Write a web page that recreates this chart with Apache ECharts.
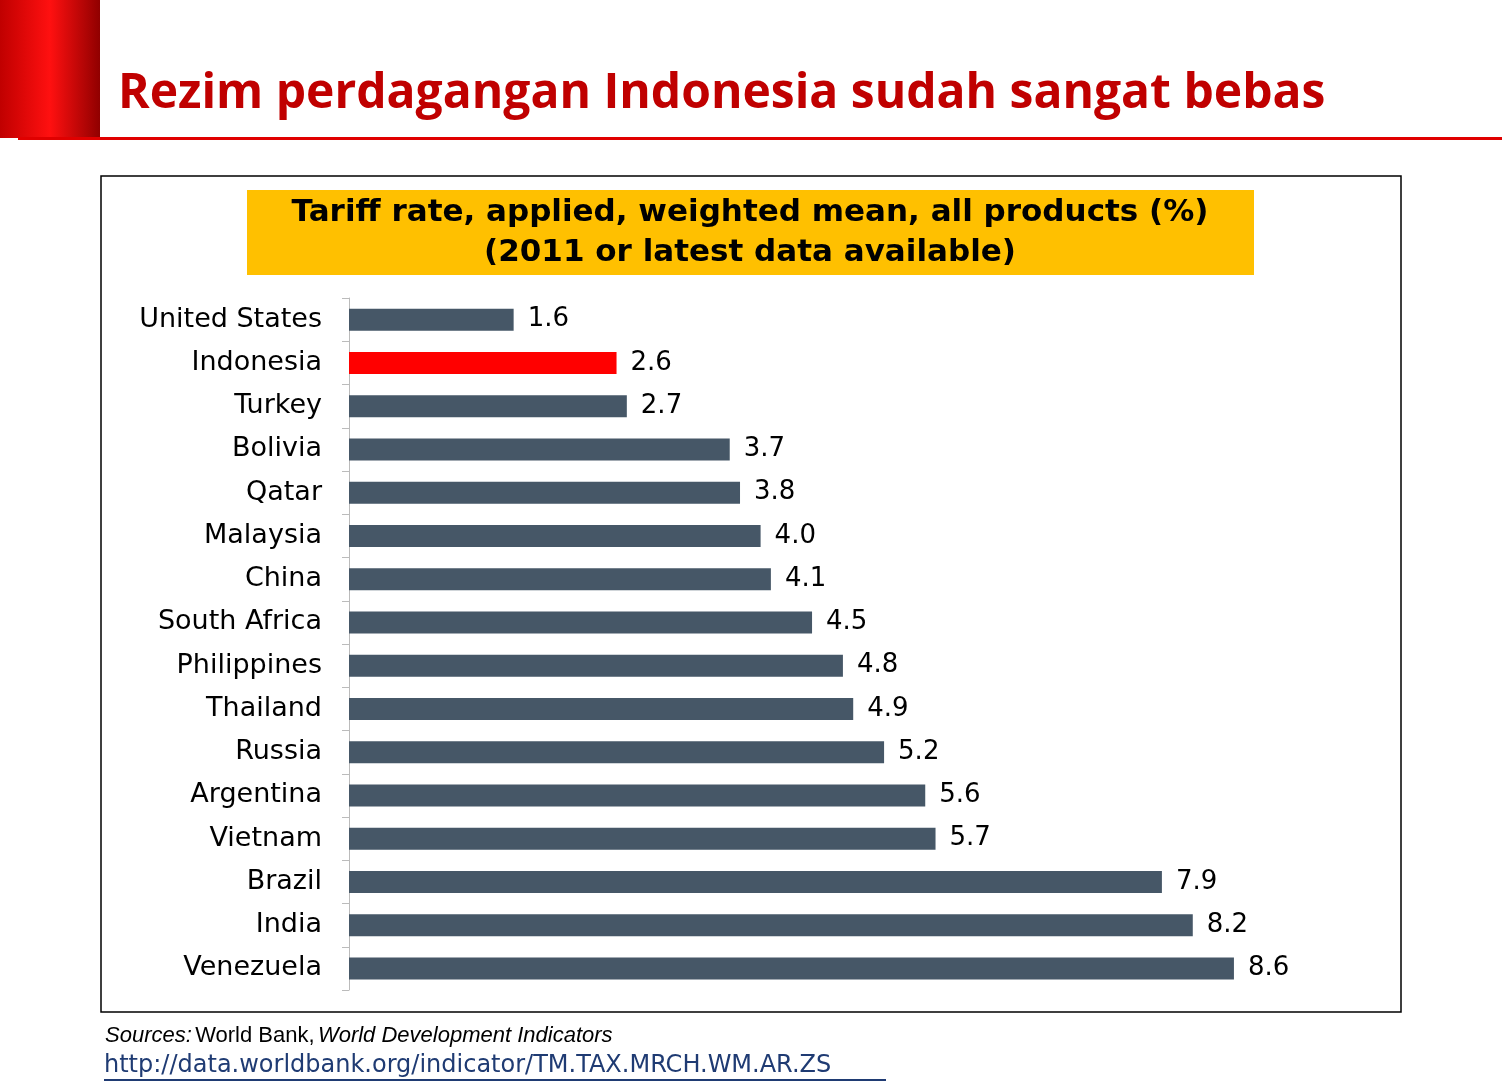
<!DOCTYPE html>
<html><head><meta charset="utf-8">
<script src="https://cdn.jsdelivr.net/npm/echarts@6/dist/echarts.min.js"></script>
<style>html,body{margin:0;padding:0;background:#fff}#c{width:1502px;height:1090px}</style>
</head><body><div id="c"></div>
<script>
const countries=["United States","Indonesia","Turkey","Bolivia","Qatar","Malaysia","China","South Africa","Philippines","Thailand","Russia","Argentina","Vietnam","Brazil","India","Venezuela"];
const values=[1.6,2.6,2.7,3.7,3.8,4.0,4.1,4.5,4.8,4.9,5.2,5.6,5.7,7.9,8.2,8.6];
const highlight="Indonesia";
const chart=echarts.init(document.getElementById('c'));
chart.setOption({
 animation:false,
 grid:{left:349,top:298,width:1029,height:692},
 xAxis:{type:'value',min:0,max:10,show:false},
 yAxis:{type:'category',data:countries,inverse:true,
  axisLine:{lineStyle:{color:'#bbb'}},axisTick:{show:true,length:7,lineStyle:{color:'#bbb'}},
  axisLabel:{fontFamily:'DejaVu Sans',fontSize:27,color:'#000',margin:27}},
 series:[{type:'bar',barWidth:22,
  data:values.map((v,i)=>({value:v,itemStyle:{color:countries[i]===highlight?'#ff0000':'#465767'}})),
  label:{show:true,position:'right',distance:14,fontFamily:'DejaVu Sans',fontSize:26,color:'#000',formatter:p=>p.value.toFixed(1)}}],
 graphic:[
  {type:'rect',shape:{x:0,y:0,width:100,height:138},style:{fill:new echarts.graphic.LinearGradient(0,0,1,0,[{offset:0,color:'#c00000'},{offset:0.5,color:'#ff1010'},{offset:1,color:'#900000'}])}},
  {type:'rect',shape:{x:18,y:137,width:1484,height:3},style:{fill:'#e00000'}},
  {type:'text',left:118,top:70,style:{text:'Rezim perdagangan Indonesia sudah sangat bebas',font:'bold 48px "Open Sans", "DejaVu Sans"',fill:'#c00000',shadowColor:'rgba(0,0,0,0.35)',shadowOffsetX:2,shadowOffsetY:2,shadowBlur:2}},
  {type:'rect',shape:{x:101,y:176,width:1300,height:836},style:{fill:'none',stroke:'#000',lineWidth:1.5}},
  {type:'rect',shape:{x:247,y:190,width:1007,height:85},style:{fill:'#ffc000'}},
  {type:'text',x:750,y:233,style:{text:'Tariff rate, applied, weighted mean, all products (%)\n(2011 or latest data available)',font:'bold 31px "DejaVu Sans"',fill:'#000',align:'center',verticalAlign:'middle',lineHeight:40}},
  {type:'text',left:105,top:1025,style:{rich:{i:{font:'italic 22px "Liberation Sans Narrow", "Liberation Sans"',fill:'#000'},n:{font:'22px "Liberation Sans Narrow", "Liberation Sans"',fill:'#000'}},text:'{i|Sources:} {n|World Bank,} {i|World Development Indicators}'}},
  {type:'text',left:104,top:1054,style:{text:'http://data.worldbank.org/indicator/TM.TAX.MRCH.WM.AR.ZS',font:'24px "DejaVu Sans"',fill:'#1f3b73'}},
  {type:'rect',shape:{x:104,y:1079,width:782,height:2},style:{fill:'#1f3b73'}}
 ]
});
</script></body></html>
